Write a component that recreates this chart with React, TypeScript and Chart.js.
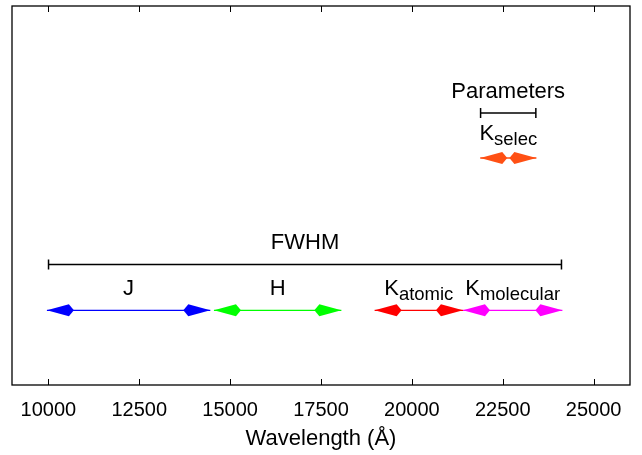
import React, { useEffect, useRef } from 'react';
import { Chart, registerables } from 'chart.js';

Chart.register(...registerables);

// ---- data ----
const xTicks = [10000, 12500, 15000, 17500, 20000, 22500, 25000];

const bandLabels = ['J', 'H', 'K', 'K'];
const bandSubs = ['', '', 'atomic', 'molecular'];
const bandStart = [9960, 14555, 18975, 21405];
const bandEnd = [14455, 18060, 21405, 24140];
const bandColors = ['#0000ff', '#00ff00', '#ff0000', '#ff00ff'];
const bandRow = 1.97;

const selecLabel = 'K';
const selecSub = 'selec';
const selecStart = 21880;
const selecEnd = 23425;
const selecRow = 5.99;
const selecColor = '#ff5014';

const fwhmLabel = 'FWHM';
const fwhmRange = [10005, 24115];
const fwhmRow = 3.18;

const paramLabel = 'Parameters';
const paramRange = [21890, 23410];
const paramRow = 7.18;

const FONT = "'Liberation Sans', Arial, Helvetica, sans-serif";
const MAIN_SIZE = 22;
const SUB_SIZE = 18.5;

type Arrow = { start: number; end: number; row: number; color: string; label: string; sub: string };
type Bar = { start: number; end: number; row: number; label: string };

const arrows: Arrow[] = [
  ...bandLabels.map((l, i) => ({
    start: bandStart[i],
    end: bandEnd[i],
    row: bandRow,
    color: bandColors[i],
    label: l,
    sub: bandSubs[i],
  })),
  { start: selecStart, end: selecEnd, row: selecRow, color: selecColor, label: selecLabel, sub: selecSub },
];

const bars: Bar[] = [
  { start: fwhmRange[0], end: fwhmRange[1], row: fwhmRow, label: fwhmLabel },
  { start: paramRange[0], end: paramRange[1], row: paramRow, label: paramLabel },
];

function drawLabel(ctx: CanvasRenderingContext2D, cx: number, baseY: number, main: string, sub: string) {
  ctx.save();
  ctx.fillStyle = '#000';
  ctx.textBaseline = 'alphabetic';
  ctx.textAlign = 'left';
  ctx.font = `${MAIN_SIZE}px ${FONT}`;
  const wm = ctx.measureText(main).width;
  ctx.font = `${SUB_SIZE}px ${FONT}`;
  const ws = sub ? ctx.measureText(sub).width : 0;
  const x0 = cx - (wm + ws) / 2;
  ctx.font = `${MAIN_SIZE}px ${FONT}`;
  ctx.fillText(main, x0, baseY);
  if (sub) {
    ctx.font = `${SUB_SIZE}px ${FONT}`;
    ctx.fillText(sub, x0 + wm, baseY + 5);
  }
  ctx.restore();
}

function drawHead(ctx: CanvasRenderingContext2D, tx: number, ty: number, dir: number, color: string) {
  // dir = -1 pointing left, +1 pointing right
  const L1 = 22;
  const L2 = 27;
  const H = 6;
  ctx.save();
  ctx.fillStyle = color;
  ctx.beginPath();
  ctx.moveTo(tx, ty);
  ctx.lineTo(tx - dir * L1, ty - H);
  ctx.lineTo(tx - dir * L2, ty);
  ctx.lineTo(tx - dir * L1, ty + H);
  ctx.closePath();
  ctx.fill();
  ctx.restore();
}

const annotPlugin = {
  id: 'annot',
  afterDatasetsDraw(chart: any) {
    const ctx: CanvasRenderingContext2D = chart.ctx;
    const xs = chart.scales.x;
    const ys = chart.scales.y;
    arrows.forEach((a) => {
      const y = ys.getPixelForValue(a.row);
      const x1 = xs.getPixelForValue(a.start);
      const x2 = xs.getPixelForValue(a.end);
      drawHead(ctx, x1, y, -1, a.color);
      drawHead(ctx, x2, y, 1, a.color);
      const ly = y - (a.row === selecRow ? 18 : 15);
      drawLabel(ctx, (x1 + x2) / 2, ly, a.label, a.sub);
    });
    bars.forEach((b) => {
      const y = ys.getPixelForValue(b.row);
      const x1 = xs.getPixelForValue(b.start);
      const x2 = xs.getPixelForValue(b.end);
      ctx.save();
      ctx.strokeStyle = '#000';
      ctx.lineWidth = 1.5;
      ctx.beginPath();
      ctx.moveTo(x1, y - 5);
      ctx.lineTo(x1, y + 5);
      ctx.moveTo(x2, y - 5);
      ctx.lineTo(x2, y + 5);
      ctx.stroke();
      ctx.restore();
      drawLabel(ctx, (x1 + x2) / 2, y - 15, b.label, '');
    });
  },
  afterDraw(chart: any) {
    const ctx: CanvasRenderingContext2D = chart.ctx;
    const a = chart.chartArea;
    const xs = chart.scales.x;
    ctx.save();
    ctx.strokeStyle = '#000';
    ctx.lineWidth = 1.3;
    ctx.strokeRect(a.left, a.top, a.right - a.left, a.bottom - a.top);
    ctx.lineWidth = 1;
    ctx.beginPath();
    xTicks.forEach((v) => {
      const x = Math.round(xs.getPixelForValue(v)) + 0.5;
      ctx.moveTo(x, a.bottom);
      ctx.lineTo(x, a.bottom - 6);
      ctx.moveTo(x, a.top);
      ctx.lineTo(x, a.top + 6);
    });
    ctx.stroke();
    ctx.restore();
  },
};

export default function App() {
  const ref = useRef<HTMLCanvasElement | null>(null);
  useEffect(() => {
    if (!ref.current) return;
    const datasets: any[] = [
      ...arrows.map((a) => ({
        data: [
          { x: a.start, y: a.row },
          { x: a.end, y: a.row },
        ],
        borderColor: a.color,
        borderWidth: 1.3,
        pointRadius: 0,
        fill: false,
      })),
      ...bars.map((b) => ({
        data: [
          { x: b.start, y: b.row },
          { x: b.end, y: b.row },
        ],
        borderColor: '#000',
        borderWidth: 1.5,
        pointRadius: 0,
        fill: false,
      })),
    ];
    const chart = new Chart(ref.current, {
      type: 'line',
      data: { datasets },
      options: {
        animation: false,
        responsive: false,
        maintainAspectRatio: false,
        layout: { padding: { left: 12, right: 12, top: 6, bottom: 0 } },
        plugins: { legend: { display: false }, tooltip: { enabled: false } },
        scales: {
          x: {
            type: 'linear',
            min: 9000,
            max: 26000,
            afterBuildTicks: (s: any) => {
              s.ticks = xTicks.map((v) => ({ value: v }));
            },
            afterFit: (s: any) => {
              s.height = 70;
            },
            grid: { display: false, drawTicks: false },
            border: { display: false },
            ticks: {
              color: '#000',
              font: { family: FONT, size: 20 },
              padding: 13,
              maxRotation: 0,
              autoSkip: false,
              callback: (v: any) => String(v),
            },
            title: {
              display: true,
              text: 'Wavelength (Å)',
              color: '#000',
              font: { family: FONT, size: 22 },
              padding: { top: 2, bottom: 3 },
            },
          },
          y: { type: 'linear', display: false, min: 0, max: 10 },
        },
      } as any,
      plugins: [annotPlugin],
    });
    return () => chart.destroy();
  }, []);
  return (
    <div style={{ position: 'absolute', left: 0, top: 0, width: 642, height: 455, background: '#fff' }}>
      <canvas ref={ref} width={642} height={455} style={{ display: 'block' }} />
    </div>
  );
}
